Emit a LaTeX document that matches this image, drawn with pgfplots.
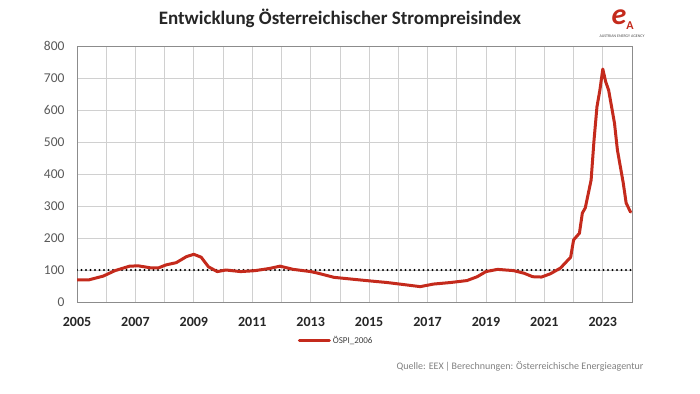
\documentclass[border=0pt]{standalone}
\usepackage{pgfplots}
\pgfplotsset{compat=1.18}
\usepackage{fontspec}
\setmainfont{Carlito}
\definecolor{linered}{HTML}{C42A1C}
\definecolor{gridgray}{HTML}{D0D0D0}
\definecolor{labgray}{HTML}{595959}
\begin{document}
\begin{tikzpicture}
\path[use as bounding box] (0pt,0pt) rectangle (700pt,393pt);
\node[font=\fontsize{19}{22}\selectfont\bfseries, text=black!85] at (340pt,375pt) {Entwicklung Österreichischer Strompreisindex};
% logo
\node[font=\fontsize{30}{30}\selectfont\itshape\bfseries, text=linered] at (619pt,376pt) {e};
\node[font=\fontsize{12}{12}\selectfont\bfseries, text=linered] at (630pt,367pt) {A};
\node[font=\fontsize{4}{4}\selectfont, text=black!70] at (622pt,357pt) {AUSTRIAN ENERGY AGENCY};
\node[font=\fontsize{10}{12}\selectfont, text=black!50, anchor=east] at (647pt,27pt) {Quelle: EEX\,|\,Berechnungen: Österreichische Energieagentur};
\begin{axis}[
  at={(77pt,91pt)}, anchor=south west,
  width=555pt, height=256pt, scale only axis,
  xmin=2005, xmax=2024, ymin=0, ymax=800,
  xtick={2005,2007,...,2023},
  minor xtick={2006,2008,...,2024},
  ytick={0,100,...,800},
  xticklabel style={font=\fontsize{14}{16}\selectfont\bfseries, text=black!85},
  yticklabel style={font=\fontsize{13.5}{16}\selectfont, text=labgray},
  /pgf/number format/assume math mode=true,
  /pgf/number format/1000 sep={},
  major tick length=0pt, minor tick length=0pt,
  grid=both,
  major grid style={gridgray, line width=0.8pt},
  minor grid style={gridgray, line width=0.8pt},
  axis line style={black!45, line width=0.8pt},
  xticklabel shift=12pt,
  yticklabel shift=9pt,
  legend style={at={(0.467,-0.152)}, anchor=center, draw=none, fill=none,
    font=\fontsize{9}{11}\selectfont, text=black!75},
  legend image code/.code={\draw[#1, line width=3pt] (0pt,0pt) -- (30pt,0pt);},
]
\addplot[black, line width=2.2pt, dash pattern=on 0pt off 4.5pt, line cap=round, forget plot] coordinates {(2005,100) (2024,100)};
\addplot[linered, line width=3pt, line join=round, line cap=round] coordinates {
(2005.0,69) (2005.4,69) (2005.9,81) (2006.3,98) (2006.8,112) (2007.1,113)
(2007.5,107) (2007.8,107) (2008.05,116) (2008.4,123) (2008.75,142) (2009.0,149)
(2009.25,140) (2009.5,110) (2009.8,95) (2010.1,100) (2010.6,95) (2011.1,98)
(2011.6,105) (2011.95,112) (2012.4,102) (2013.0,95) (2013.25,90) (2013.8,77)
(2014.35,72) (2014.9,67) (2015.6,61) (2016.05,56) (2016.75,48) (2017.2,56)
(2017.8,61) (2018.35,67) (2018.7,79) (2019.0,95) (2019.4,102) (2019.95,98)
(2020.3,90) (2020.6,79) (2020.9,78) (2021.2,88) (2021.55,106) (2021.9,140)
(2022.0,194) (2022.2,215) (2022.3,278) (2022.4,294) (2022.6,381) (2022.7,506)
(2022.8,610) (2022.9,662) (2023.0,728) (2023.1,688) (2023.2,662) (2023.4,559)
(2023.5,475) (2023.7,372) (2023.8,309) (2023.95,281)
};
\addlegendentry{ÖSPI\_2006}
\end{axis}
\end{tikzpicture}
\end{document}
